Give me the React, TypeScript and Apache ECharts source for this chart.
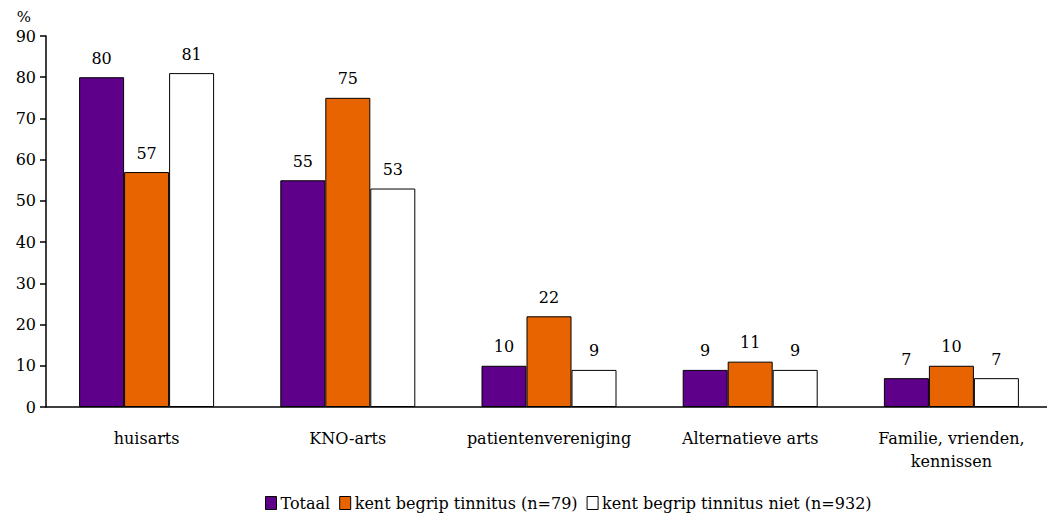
import React, { useEffect, useRef } from "react";
import * as echarts from "echarts";

const categories = ["huisarts", "KNO-arts", "patientenvereniging", "Alternatieve arts", "Familie, vrienden,\nkennissen"];
const totaal = [80, 55, 10, 9, 7];
const kent = [57, 75, 22, 11, 10];
const kentNiet = [81, 53, 9, 9, 7];
const seriesNames = ["Totaal", "kent begrip tinnitus (n=79)", "kent begrip tinnitus niet (n=932)"];
const colors = ["#5f008a", "#e86400", "#ffffff"];

const FONT = "DejaVu Serif";

export default function App() {
  const ref = useRef<HTMLDivElement>(null);
  useEffect(() => {
    const chart = echarts.init(ref.current!, null, { renderer: "svg" });
    const data = [totaal, kent, kentNiet];
    chart.setOption({
      animation: false,
      textStyle: { fontFamily: FONT, color: "#000" },
      legend: {
        top: 490,
        left: 260,
        itemWidth: 11,
        itemHeight: 13,
        itemGap: 9,
        icon: "rect",
        textStyle: { fontFamily: FONT, fontSize: 16, color: "#000", padding: [0, 0, 0, -1] },
        data: seriesNames.map((n, i) => ({ name: n, itemStyle: { color: colors[i], borderColor: "#000", borderWidth: 1 } })),
      },
      grid: { left: 46, right: 0, top: 36, bottom: 109, containLabel: false },
      xAxis: {
        type: "category",
        data: categories,
        axisLine: { lineStyle: { color: "#000", width: 1.5 } },
        axisTick: { show: false },
        axisLabel: { fontFamily: FONT, fontSize: 16, color: "#000", margin: 20, lineHeight: 23, interval: 0 },
      },
      yAxis: {
        type: "value",
        min: 0,
        max: 90,
        interval: 10,
        name: "%",
        nameLocation: "end",
        nameGap: 12,
        nameTextStyle: { fontFamily: FONT, fontSize: 15, color: "#000", align: "right", padding: [0, 15, 0, 0] },
        splitLine: { show: false },
        axisLine: { show: true, lineStyle: { color: "#000", width: 1.5 } },
        axisTick: { show: true, inside: false, length: 6, lineStyle: { color: "#000", width: 1.5 } },
        axisLabel: { fontFamily: FONT, fontSize: 16, color: "#000", margin: 10 },
      },
      series: seriesNames.map((n, i) => ({
        name: n,
        type: "bar",
        data: data[i],
        barWidth: 45,
        barGap: "0%",
        itemStyle: { color: colors[i], borderColor: "#000", borderWidth: 1 },
        label: { show: true, position: "top", distance: 11, fontFamily: FONT, fontSize: 16, color: "#000" },
      })),
    });
    return () => chart.dispose();
  }, []);
  return (
    <div style={{ width: 1047, height: 516, position: "absolute", left: 0, top: 0, overflow: "hidden" }}>
      <div ref={ref} style={{ width: 1052, height: 516 }} />
    </div>
  );
}
